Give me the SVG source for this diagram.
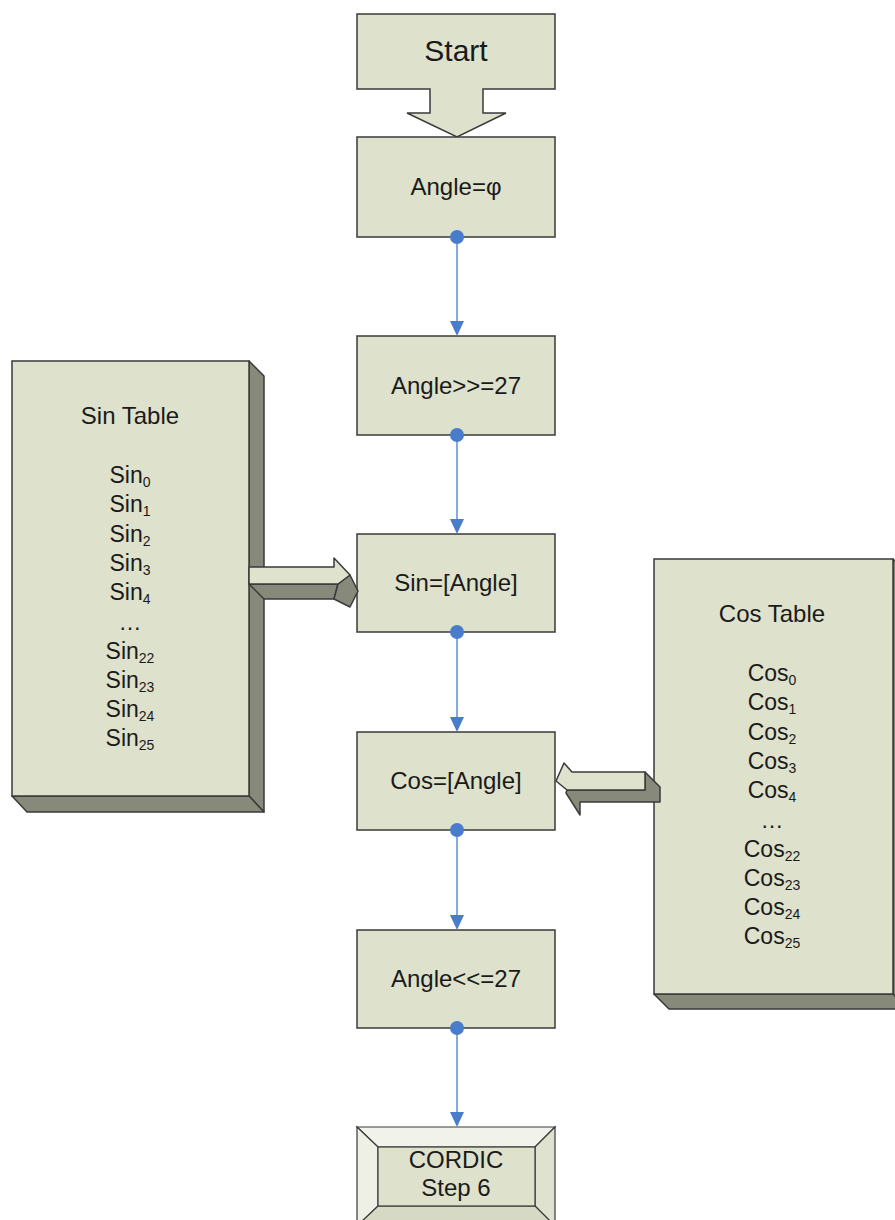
<svg xmlns="http://www.w3.org/2000/svg" width="895" height="1220" viewBox="0 0 895 1220">
<style>
.box{fill:#dee1cc;stroke:#3a3a3a;stroke-width:1.5}
.dark{fill:#878a7a;stroke:#3a3a3a;stroke-width:1.5;stroke-linejoin:round}
.lt{fill:#dfe2cd;stroke:#3a3a3a;stroke-width:1.5;stroke-linejoin:round}
text{font-family:"Liberation Sans",Arial,sans-serif;fill:#1a1a1a;text-anchor:middle}
.lbl{font-size:24px}
.tb{font-size:24px}
.it{font-size:23px}
.sub{font-size:14px}
.con{stroke:#5b8ed6;stroke-width:1.5;fill:none}
.dot{fill:#4a7ccc}
.ah{fill:#4a7ccc}
</style>
<rect width="895" height="1220" fill="#ffffff"/>

<g id="start">
<path class="box" d="M357,14 H555 V89 H483 V113 H506 L457,137 L407,113 H430 V89 H357 Z"/>
<text x="456" y="61" style="font-size:30px">Start</text>
</g>

<g id="angle-phi">
<rect class="box" x="357" y="137" width="198" height="100"/>
<text class="lbl" x="456" y="195">Angle=φ</text>
</g>

<g id="angle-shr">
<rect class="box" x="357" y="336" width="198" height="99"/>
<text class="lbl" x="456" y="394">Angle&gt;&gt;=27</text>
</g>

<g id="sin-angle">
<rect class="box" x="357" y="534" width="198" height="98"/>
<text class="lbl" x="456" y="591">Sin=[Angle]</text>
</g>

<g id="cos-angle">
<rect class="box" x="357" y="732" width="198" height="98"/>
<text class="lbl" x="456" y="789">Cos=[Angle]</text>
</g>

<g id="angle-shl">
<rect class="box" x="357" y="930" width="198" height="98"/>
<text class="lbl" x="456" y="987">Angle&lt;&lt;=27</text>
</g>

<g id="cordic">
<polygon points="357,1127 555,1127 535,1147 378,1147" fill="#f1f2ea" stroke="#3a3a3a" stroke-width="1.2"/>
<polygon points="357,1127 378,1147 378,1206 357,1226" fill="#eeefe5" stroke="#3a3a3a" stroke-width="1.2"/>
<polygon points="555,1127 535,1147 535,1206 555,1226" fill="#e0e2d0" stroke="#3a3a3a" stroke-width="1.2"/>
<polygon points="378,1206 535,1206 555,1226 357,1226" fill="#d6d9c3" stroke="#3a3a3a" stroke-width="1.2"/>
<rect x="378" y="1147" width="157" height="59" fill="#dee1cc" stroke="#3a3a3a" stroke-width="1.2"/>
<text class="lbl" x="456" y="1168">CORDIC</text>
<text class="lbl" x="456" y="1196">Step 6</text>
</g>

<g id="sin-table">
<polygon class="dark" points="249,361 264,376 264,812 249,796"/>
<polygon class="dark" points="12,796 249,796 264,812 27,812"/>
<rect class="box" x="12" y="361" width="237" height="435"/>
<text class="tb" x="130" y="424">Sin Table</text>
<text class="it" x="130" y="483">Sin<tspan class="sub" dy="4">0</tspan></text>
<text class="it" x="130" y="512">Sin<tspan class="sub" dy="4">1</tspan></text>
<text class="it" x="130" y="542">Sin<tspan class="sub" dy="4">2</tspan></text>
<text class="it" x="130" y="571">Sin<tspan class="sub" dy="4">3</tspan></text>
<text class="it" x="130" y="600">Sin<tspan class="sub" dy="4">4</tspan></text>
<text class="it" x="130" y="630">…</text>
<text class="it" x="130" y="659">Sin<tspan class="sub" dy="4">22</tspan></text>
<text class="it" x="130" y="688">Sin<tspan class="sub" dy="4">23</tspan></text>
<text class="it" x="130" y="717">Sin<tspan class="sub" dy="4">24</tspan></text>
<text class="it" x="130" y="746">Sin<tspan class="sub" dy="4">25</tspan></text>
</g>

<g id="cos-table">
<polygon class="dark" points="893,559 908,574 908,1009 893,994"/>
<polygon class="dark" points="654,994 893,994 908,1009 669,1009"/>
<rect class="box" x="654" y="559" width="239" height="435"/>
<text class="tb" x="772" y="622">Cos Table</text>
<text class="it" x="772" y="681">Cos<tspan class="sub" dy="4">0</tspan></text>
<text class="it" x="772" y="710">Cos<tspan class="sub" dy="4">1</tspan></text>
<text class="it" x="772" y="740">Cos<tspan class="sub" dy="4">2</tspan></text>
<text class="it" x="772" y="769">Cos<tspan class="sub" dy="4">3</tspan></text>
<text class="it" x="772" y="798">Cos<tspan class="sub" dy="4">4</tspan></text>
<text class="it" x="772" y="828">…</text>
<text class="it" x="772" y="857">Cos<tspan class="sub" dy="4">22</tspan></text>
<text class="it" x="772" y="886">Cos<tspan class="sub" dy="4">23</tspan></text>
<text class="it" x="772" y="915">Cos<tspan class="sub" dy="4">24</tspan></text>
<text class="it" x="772" y="944">Cos<tspan class="sub" dy="4">25</tspan></text>
</g>

<g id="connectors">
<line class="con" x1="457" y1="237" x2="457" y2="322"/>
<polygon class="ah" points="450,321 464,321 457,336"/>
<circle class="dot" cx="457" cy="237" r="7"/>
<line class="con" x1="457" y1="435" x2="457" y2="520"/>
<polygon class="ah" points="450,519 464,519 457,534"/>
<circle class="dot" cx="457" cy="435" r="7"/>
<line class="con" x1="457" y1="632" x2="457" y2="718"/>
<polygon class="ah" points="450,717 464,717 457,732"/>
<circle class="dot" cx="457" cy="632" r="7"/>
<line class="con" x1="457" y1="830" x2="457" y2="916"/>
<polygon class="ah" points="450,915 464,915 457,930"/>
<circle class="dot" cx="457" cy="830" r="7"/>
<line class="con" x1="457" y1="1028" x2="457" y2="1113"/>
<polygon class="ah" points="450,1112 464,1112 457,1127"/>
<circle class="dot" cx="457" cy="1028" r="7"/>

<g id="sin-arrow">
<polygon class="dark" points="249,584 338,584 334,599 264,599"/>
<polygon class="dark" points="338,584 350,575 358,591 350,607 334,599"/>
<polygon class="lt" points="249,567 334,567 334,558 350,575 338,584 249,584"/>
</g>
<g id="cos-arrow">
<polygon class="dark" points="567,790 645,790 645,772 660,787 660,802 580,802 580,815 566,793"/>
<polygon class="lt" points="556,781 564,763 572,772 645,772 645,790 567,790"/>
</g>
</g>
</svg>
